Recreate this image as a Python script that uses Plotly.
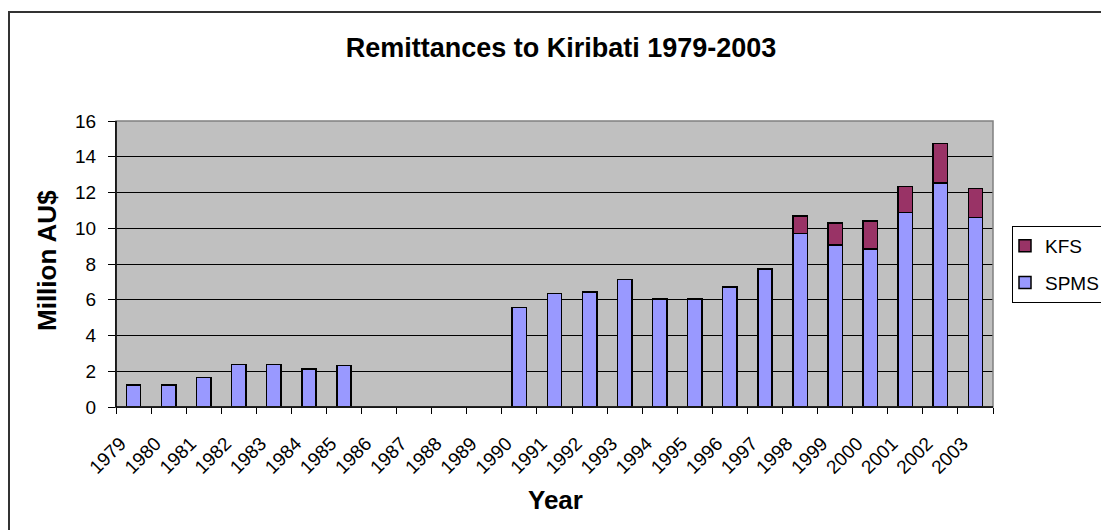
import plotly.graph_objects as go

years = [str(y) for y in range(1979, 2004)]
spms = [1.23, 1.23, 1.64, 2.38, 2.38, 2.12, 2.31, None, None, None, None,
        5.57, 6.35, 6.44, 7.13, 6.05, 6.05, 6.72, 7.71,
        9.72, 9.05, 8.85, 10.88, 12.53, 10.60]
kfs = [None] * 19 + [0.97, 1.25, 1.56, 1.45, 2.22, 1.62]

title_text = "Remittances to Kiribati 1979-2003"
y_title = "Million AU$"
x_title = "Year"

FONT = "Liberation Sans, Arial, sans-serif"

fig = go.Figure()
fig.add_trace(go.Bar(x=years, y=spms, name="SPMS", legendgroup="s", legendrank=2,
                     marker=dict(color="#9999FF", line=dict(color="black", width=1.5))))
fig.add_trace(go.Bar(x=years, y=kfs, name="KFS", legendgroup="k", legendrank=1,
                     marker=dict(color="#993366", line=dict(color="black", width=1.5))))

# page body has an 8px margin; positions below are screen pixels minus 8
OFF = 8
W, H = 1109, 530
L, R, T, B = 116 - OFF, 993 - OFF, 121 - OFF, 407 - OFF
pw, ph = R - L, B - T

def px2x(px):
    return (px - OFF - L) / pw

def px2y(py):
    return (B - (py - OFF)) / ph

fig.update_layout(
    width=W, height=H,
    margin=dict(l=L, r=W - R, t=T, b=H - B, autoexpand=False),
    barmode="stack", bargap=0.59,
    paper_bgcolor="white", plot_bgcolor="#C0C0C0",
    font=dict(family=FONT, color="black", size=18),
    title=dict(text="<b>" + title_text + "</b>", xref="container", x=(561 - OFF) / W,
               xanchor="center", yref="container", y=1 - (48 - OFF) / H,
               yanchor="middle", font=dict(size=27, family=FONT)),
    showlegend=True,
    legend=dict(x=px2x(1012), y=px2y(226), xanchor="left", yanchor="top",
                traceorder="grouped", bgcolor="white", bordercolor="black",
                borderwidth=1, font=dict(size=19, family=FONT),
                tracegroupgap=9, itemwidth=30, indentation=-8),
    xaxis=dict(type="category", tickangle=-45, tickson="boundaries",
               ticks="outside", ticklen=6, tickcolor="black",
               showline=True, linecolor="black", linewidth=1,
               tickfont=dict(size=19), ticklabelstandoff=17, ticklabelshift=-13,
               showgrid=False, range=[-0.5, 24.5]),
    yaxis=dict(range=[0, 16], dtick=2, ticks="outside", ticklen=7,
               tickcolor="black", showline=True, linecolor="black", linewidth=1,
               showgrid=True, gridcolor="black", gridwidth=1,
               tickfont=dict(size=19), ticklabelstandoff=8, zeroline=False),
    annotations=[
        dict(text="<b>" + y_title + "</b>", textangle=-90, xref="paper", yref="paper",
             x=px2x(47), y=px2y(261), xanchor="center", yanchor="middle",
             showarrow=False, font=dict(size=26)),
        dict(text="<b>" + x_title + "</b>", xref="paper", yref="paper",
             x=px2x(555), y=px2y(500), xanchor="center", yanchor="middle",
             showarrow=False, font=dict(size=26)),
    ],
    shapes=[
        dict(type="rect", xref="paper", yref="paper", x0=0, y0=0, x1=1, y1=1,
             line=dict(color="#808080", width=1.5), layer="above"),
        dict(type="line", xref="paper", yref="paper", x0=0, y0=0, x1=0, y1=1,
             line=dict(color="black", width=1.5), layer="above"),
        dict(type="line", xref="paper", yref="paper", x0=0, y0=0, x1=1, y1=0,
             line=dict(color="black", width=1.5), layer="above"),
        dict(type="rect", xref="paper", yref="paper", x0=px2x(9), y0=px2y(600),
             x1=px2x(1200), y1=px2y(12), line=dict(color="#333333", width=2)),
    ],
)

fig.write_html("out.html")
